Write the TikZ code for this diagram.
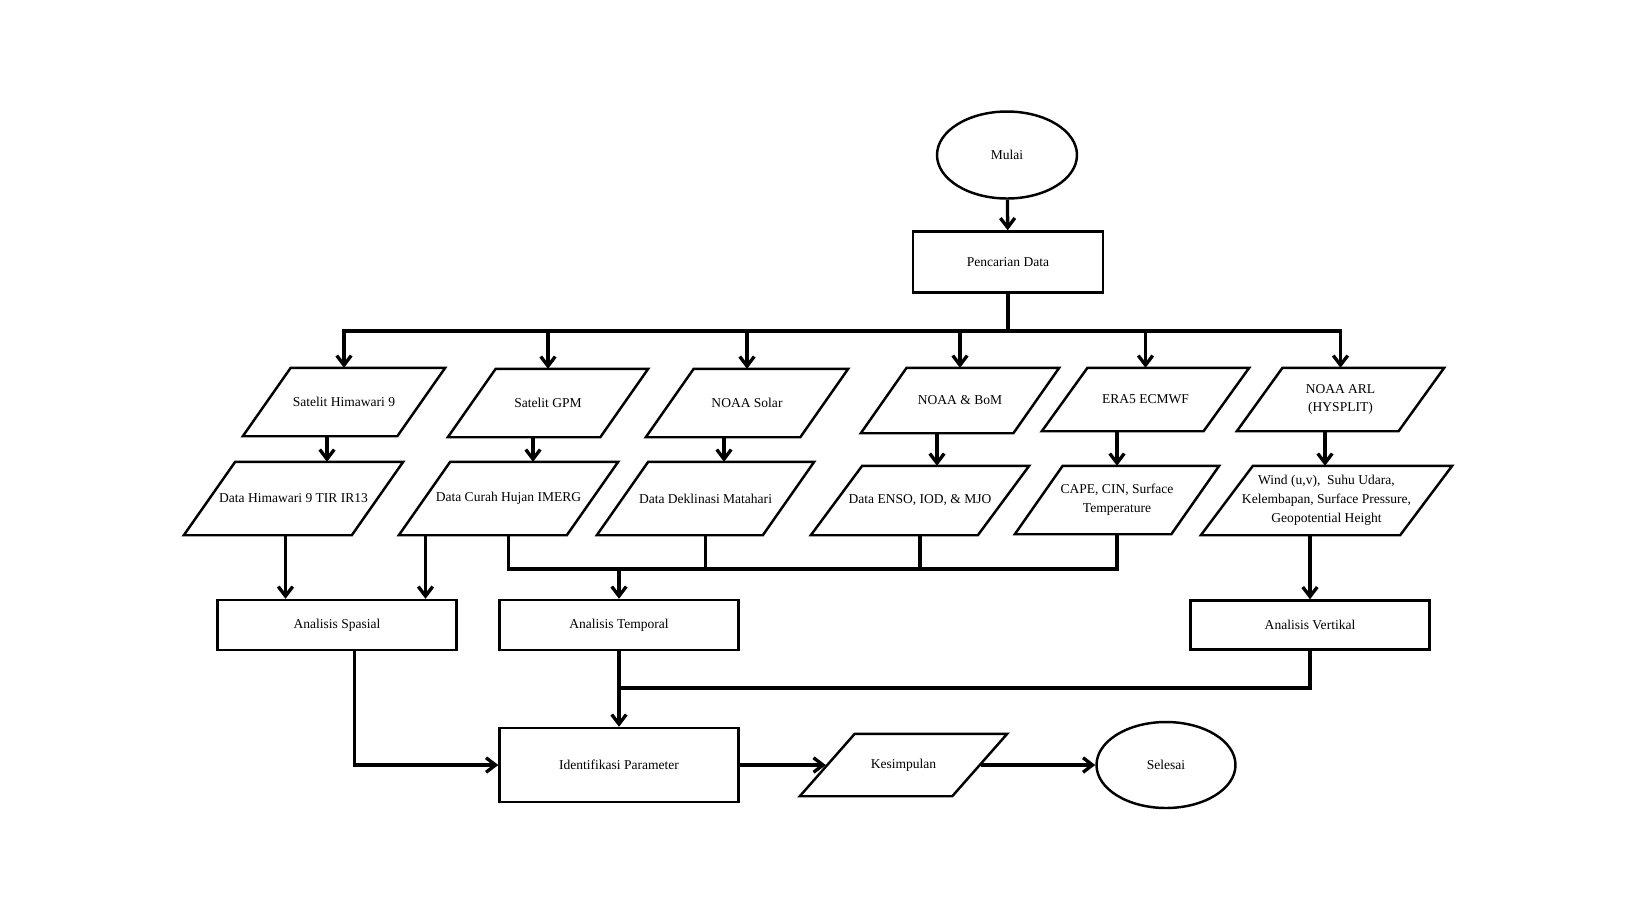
\documentclass[tikz,border=0pt]{standalone}
\usepackage{fontspec}
\setmainfont{Liberation Serif}
\usetikzlibrary{arrows.meta,shapes.geometric,calc}

\begin{document}
\begin{tikzpicture}[x=0.02cm, y=-0.02cm, >={Straight Barb[length=1.9mm,width=2.9mm]},
    font=\fontsize{7.7}{10.7}\selectfont,
    term/.style={draw, ellipse, line width=1.4pt, inner sep=0pt},
    proc/.style={draw, rectangle, line width=1.4pt, minimum width=4.78cm, minimum height=1cm},
    io/.style={rectangle, inner sep=1pt, outer sep=0.7pt, align=center},
    box/.style={line width=1.4pt, line join=miter},
    arr/.style={->, line width=1.9pt},
    line/.style={line width=1.9pt}]
    \useasboundingbox (0,0) rectangle (1637,921);

    % Start and data search
    \node[term, minimum width=2.8cm, minimum height=1.74cm] (mulai) at (1007,155) {Mulai};
    \node[proc, minimum width=3.8cm, minimum height=1.22cm] (cari) at (1008,262) {Pencarian Data};

    % Data sources
    \node[io, minimum width=4cm, minimum height=1.32cm] (s1) at (344,402) {Satelit Himawari 9};
    \node[io, minimum width=3.96cm, minimum height=1.32cm] (s2) at (548,403) {Satelit GPM};
    \node[io, minimum width=4cm, minimum height=1.32cm] (s3) at (747,403) {NOAA Solar};
    \node[io, minimum width=3.92cm, minimum height=1.26cm] (s4) at (960,400.5) {NOAA \& BoM};
    \node[io, minimum width=4.1cm, minimum height=1.22cm] (s5) at (1145.5,399.5) {ERA5 ECMWF};
    \node[io, minimum width=4.1cm, minimum height=1.22cm] (s6) at (1340.5,399.5) {NOAA ARL\\(HYSPLIT)};

    % Downloaded data
    \node[io, minimum width=4.34cm, minimum height=1.42cm] (d1) at (293.5,498.5) {Data Himawari 9 TIR IR13};
    \node[io, minimum width=4.34cm, minimum height=1.42cm] (d2) at (508.5,498.5) {Data Curah Hujan IMERG};
    \node[io, minimum width=4.3cm, minimum height=1.42cm] (d3) at (705.5,498.5) {Data Deklinasi Matahari};
    \node[io, minimum width=4.32cm, minimum height=1.34cm] (d4) at (920,500.5) {Data ENSO, IOD, \& MJO};
    \node[io, minimum width=4.04cm, minimum height=1.32cm] (d5) at (1117,500) {CAPE, CIN, Surface\\Temperature};
    \node[io, minimum width=4.98cm, minimum height=1.34cm] (d6) at (1326.5,500.5) {Wind (u,v),~ Suhu Udara,\\Kelembapan, Surface Pressure,\\Geopotential Height};

    % Analysis
    \node[proc] (sp) at (337,625) {Analisis Spasial};
    \node[proc] (tp) at (619,625) {Analisis Temporal};
    \node[proc, minimum height=0.98cm] (vt) at (1310,625) {Analisis Vertikal};
    \node[proc, minimum height=1.48cm] (id) at (619,765) {Identifikasi Parameter};
    \node[io, minimum width=4.1cm, minimum height=1.2cm] (ks) at (903.5,765) {Kesimpulan};
    \node[term, minimum width=2.78cm, minimum height=1.72cm] (sl) at (1166,765) {Selesai};

    % Parallelogram outlines of the data nodes
    \foreach \m/\f in {s1/0.70,s2/0.70,s3/0.70,s4/0.70,s5/0.72,s6/0.72,
                       d1/0.70,d2/0.70,d3/0.70,d4/0.74,d5/0.70,d6/0.75,ks/0.88}
        \draw[box] let \p1=(\m.north west), \p2=(\m.south east), \n1={(\y1-\y2)*\f} in
            (\x1+\n1,\y1) -- (\x2,\y1) -- (\x2-\n1,\y2) -- (\x1,\y2) -- cycle;

    % Helper points for the connectors
    \coordinate (bus) at (1008,331);
    \coordinate (bus2) at (619,569);
    \coordinate (join) at (619,688);
    \coordinate (k7) at (285.5,0);
    \coordinate (k8) at (425.5,0);
    \coordinate (k9) at (354.5,0);

    % Start to data search to sources
    \draw[arr] (mulai) -- (cari);
    \draw[line] (cari.south) -- (bus);
    \foreach \s in {s1,s2,s3,s4,s5,s6}
        \draw[arr] (bus) -| (\s.north);

    % Sources to data
    \foreach \i/\x in {1/327,2/533,3/724,4/937,5/1117,6/1325} {
        \coordinate (k\i) at (\x,0);
        \draw[arr] (s\i.south -| k\i) -- (d\i.north -| k\i);
    }

    % Data to analysis
    \draw[arr] (d1.south -| k7) -- (sp.north -| k7);
    \draw[arr] (d2.south -| k8) -- (sp.north -| k8);
    \draw[line] (d2.south) |- (d5.south |- bus2) -- (d5.south);
    \foreach \d in {d3,d4}
        \draw[line] (\d.south) -- (\d.south |- bus2);
    \draw[arr] (bus2) -- (tp.north);
    \draw[arr] (d6.south -| vt.north) -- (vt.north);

    % Analysis to identification and conclusion
    \draw[arr] (sp.south -| k9) |- (id.west);
    \draw[arr] (tp.south) -- (id.north);
    \draw[line] (vt.south) |- (join);
    \draw[arr] (id.east) -- ([xshift=0.52cm]ks.west);
    \draw[arr] ([xshift=-0.52cm]ks.east) -- (sl);
\end{tikzpicture}
\end{document}
